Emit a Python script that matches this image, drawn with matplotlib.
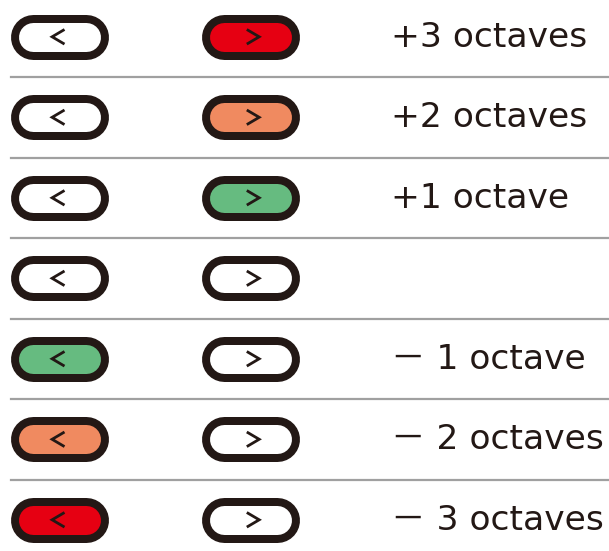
import matplotlib
matplotlib.use("Agg")
import matplotlib.pyplot as plt

# Data
shifts = [3, 2, 1, 0, -1, -2, -3]
labels = ["+3 octaves", "+2 octaves", "+1 octave", "", "－ 1 octave", "－ 2 octaves", "－ 3 octaves"]
level_colors = {0: "#ffffff", 1: "#66bb80", 2: "#f08a60", 3: "#e60012"}

W, H = 609, 551
fig = plt.figure(figsize=(W / 100, H / 100), dpi=100)
ax = fig.add_axes([0, 0, 1, 1])
ax.set_xlim(0, W)
ax.set_ylim(H, 0)
ax.axis("off")

dark = "#231815"
pitch = 80.5
y0 = 36.8
left_cx, right_cx = 59.8, 250.5
px2pt = 72 / 100
outer_h, inner_h = 45, 29
seg = 53  # straight length of pill

def pill(cx, cy, color):
    xs = [cx - seg / 2, cx + seg / 2]
    ax.plot(xs, [cy, cy], color=dark, lw=outer_h * px2pt, solid_capstyle="round", zorder=2)
    ax.plot(xs, [cy, cy], color=color, lw=inner_h * px2pt, solid_capstyle="round", zorder=2.5)

def chevron(cx, cy, direction):
    dx, dy = 6.2, 7.3
    if direction < 0:
        xs = [cx + dx, cx - dx, cx + dx]
    else:
        xs = [cx - dx, cx + dx, cx - dx]
    ys = [cy - dy, cy, cy + dy]
    ax.plot(xs, ys, color=dark, lw=2.0, solid_capstyle="butt",
            solid_joinstyle="miter", zorder=3)

for i, (s, lab) in enumerate(zip(shifts, labels)):
    cy = y0 + i * pitch
    lc = level_colors[-s] if s < 0 else level_colors[0]
    rc = level_colors[s] if s > 0 else level_colors[0]
    pill(left_cx, cy, lc)
    pill(right_cx, cy, rc)
    chevron(left_cx - 1.5, cy, -1)
    chevron(right_cx + 2.5, cy, 1)
    if lab:
        ax.text(391, cy + 9.8, lab, fontsize=24.8, color=dark, ha="left", va="baseline",
                family=["DejaVu Sans", "Noto Sans CJK JP"])
    if i < len(shifts) - 1:
        ax.plot([11, W], [cy + 40.2, cy + 40.2], color="#a0a0a0", lw=1.6, zorder=1)

fig.savefig("out.png", dpi=100)
